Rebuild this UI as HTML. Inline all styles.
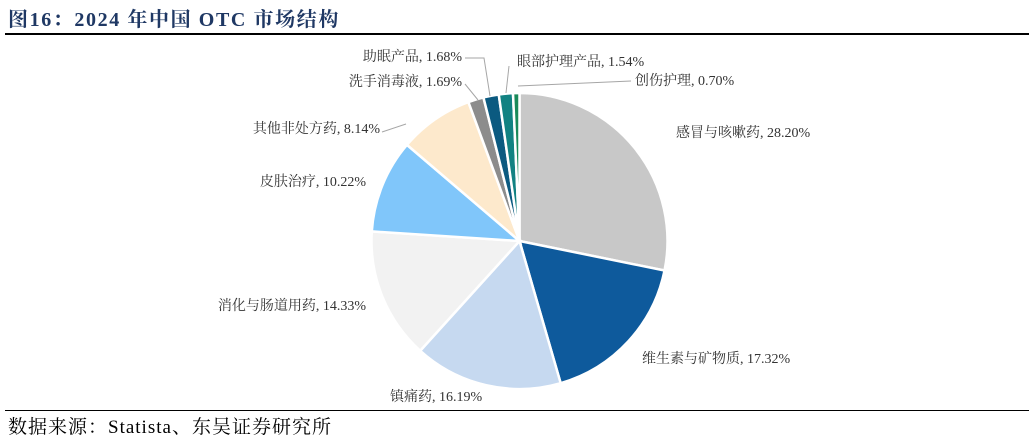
<!DOCTYPE html>
<html><head><meta charset="utf-8"><style>
body{margin:0;background:#fff;width:1032px;height:442px;overflow:hidden;font-family:"Liberation Serif","Noto Serif CJK SC",serif}
.title{position:absolute;left:8px;top:3px;font-size:20px;font-weight:bold;color:#1f3864;letter-spacing:1.6px}
.rule{position:absolute;left:5px;width:1024px;height:2px;background:#000}
.src{position:absolute;left:8px;top:412px;font-size:19px;color:#000;letter-spacing:1px}
svg text{font-family:"Liberation Serif","Noto Serif CJK SC",serif;font-size:14px;fill:#333}
</style></head><body>
<div class="title">图16：2024 年中国 OTC 市场结构</div>
<div class="rule" style="top:33px"></div>
<div class="rule" style="top:410px;height:1px"></div>
<div class="src">数据来源：Statista、东吴证券研究所</div>
<svg id="c" width="1032" height="442" style="position:absolute;left:0;top:0"></svg>
<script>
const categories=["感冒与咳嗽药","维生素与矿物质","镇痛药","消化与肠道用药","皮肤治疗","其他非处方药","洗手消毒液","助眠产品","眼部护理产品","创伤护理"];
const values=[28.20,17.32,16.19,14.33,10.22,8.14,1.69,1.68,1.54,0.70];
const colors=["#c8c8c8","#0e5a9c","#c6d9f0","#f2f2f2","#80c6fa","#fde9cc","#8c8c8c","#0b5a80","#128282","#1a8a5a"];
const labelPos=[[676,137,"start"],[642,363,"start"],[390,401,"start"],[366,310,"end"],[366,186,"end"],[380,133,"end"],[462,86,"end"],[462,61,"end"],[517,66,"start"],[635,85,"start"]];
const leaders=[null,null,null,null,null,[[382,132],[406,124]],[[465,84],[478,100]],[[465,58],[484,58],[490,96]],[[509,66],[506,93]],[[631,81],[518,86]]];
const svg=document.getElementById('c');const NS="http://www.w3.org/2000/svg";
const cx=519.5,cy=241,r=148;
const total=values.reduce((a,b)=>a+b,0);
let a=0;
values.forEach((v,i)=>{
 const a0=a/total*2*Math.PI,a1=(a+v)/total*2*Math.PI;a+=v;
 const x0=cx+r*Math.sin(a0),y0=cy-r*Math.cos(a0),x1=cx+r*Math.sin(a1),y1=cy-r*Math.cos(a1);
 const p=document.createElementNS(NS,'path');
 p.setAttribute('d',`M${cx},${cy}L${x0},${y0}A${r},${r} 0 ${a1-a0>Math.PI?1:0} 1 ${x1},${y1}Z`);
 p.setAttribute('fill',colors[i]);p.setAttribute('stroke','#fff');p.setAttribute('stroke-width','2.5');
 
 
 svg.appendChild(p);
 if(leaders[i]){const l=document.createElementNS(NS,'polyline');
  l.setAttribute('points',leaders[i].map(q=>q.join(',')).join(' '));
  l.setAttribute('fill','none');l.setAttribute('stroke','#a6a6a6');l.setAttribute('stroke-width','1');
  
  
  svg.appendChild(l);}
 const t=document.createElementNS(NS,'text');
 t.setAttribute('x',labelPos[i][0]);t.setAttribute('y',labelPos[i][1]);t.setAttribute('text-anchor',labelPos[i][2]);
 t.textContent=categories[i]+", "+v.toFixed(2)+"%";
 
 
 svg.appendChild(t);
});
</script>
</body></html>
